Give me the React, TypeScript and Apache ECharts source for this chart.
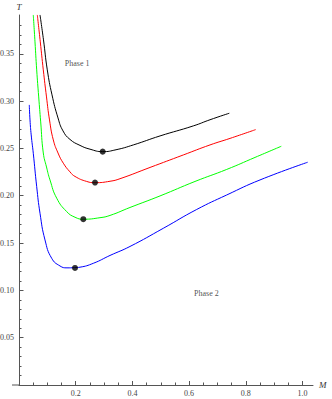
import React, { useEffect, useRef } from "react";
import * as echarts from "echarts";

// Curve samples (M, T)
const blackM = [0.0741, 0.0864, 0.0998, 0.1164, 0.1376, 0.1552, 0.1799, 0.2152, 0.2504, 0.2952, 0.3422, 0.4032, 0.4974, 0.6148, 0.6737, 0.7418];
const blackT = [0.3911, 0.3647, 0.333, 0.3066, 0.2822, 0.2685, 0.2595, 0.2532, 0.2492, 0.2466, 0.2486, 0.2537, 0.2632, 0.2738, 0.2803, 0.2872];

const redM = [0.0646, 0.0751, 0.0857, 0.097, 0.1076, 0.121, 0.1376, 0.1563, 0.1799, 0.1975, 0.2388, 0.2681, 0.321, 0.3563, 0.4621, 0.5795, 0.6737, 0.7443, 0.8349];
const redT = [0.3911, 0.3626, 0.333, 0.3044, 0.2801, 0.259, 0.2452, 0.2344, 0.2252, 0.2204, 0.2151, 0.2138, 0.2153, 0.218, 0.2299, 0.2431, 0.2537, 0.2606, 0.2699];

const greenM = [0.0504, 0.0564, 0.0624, 0.0695, 0.0765, 0.0857, 0.097, 0.1093, 0.133, 0.1683, 0.1975, 0.2268, 0.2857, 0.321, 0.3915, 0.4974, 0.6208, 0.7326, 0.8325, 0.9252];
const greenT = [0.3911, 0.3626, 0.333, 0.3044, 0.278, 0.2452, 0.2304, 0.2167, 0.1974, 0.1832, 0.1773, 0.1752, 0.1768, 0.1792, 0.1876, 0.1998, 0.2151, 0.2278, 0.2405, 0.2523];

const blueM = [0.0363, 0.0388, 0.043, 0.0504, 0.0624, 0.0741, 0.0917, 0.1153, 0.1446, 0.1693, 0.1951, 0.2152, 0.2621, 0.321, 0.3915, 0.509, 0.6268, 0.7326, 0.8501, 1.0183];
const blueT = [0.296, 0.2801, 0.2643, 0.2449, 0.2096, 0.1815, 0.1533, 0.1339, 0.1258, 0.1238, 0.124, 0.1245, 0.1286, 0.1369, 0.1464, 0.1656, 0.1855, 0.2008, 0.2167, 0.2354];

// Minimum points
const minM = [0.2952, 0.2681, 0.2268, 0.1975];
const minT = [0.2466, 0.2139, 0.1752, 0.1237];

// Region labels
const phaseLabels = ["Phase 1", "Phase 2"];
const phaseM = [0.205, 0.661];
const phaseT = [0.34, 0.0962];

// Axis ticks
const xMajor = [0.2, 0.4, 0.6, 0.8, 1.0];
const xMinor = [0.05, 0.1, 0.15, 0.25, 0.3, 0.35, 0.45, 0.5, 0.55, 0.65, 0.7, 0.75, 0.85, 0.9, 0.95];
const yMajor = [0.05, 0.1, 0.15, 0.2, 0.25, 0.3, 0.35];
const yMinor = [0.01, 0.02, 0.03, 0.04, 0.06, 0.07, 0.08, 0.09, 0.11, 0.12, 0.13, 0.14, 0.16, 0.17, 0.18, 0.19, 0.21, 0.22, 0.23, 0.24, 0.26, 0.27, 0.28, 0.29, 0.31, 0.32, 0.33, 0.34, 0.36, 0.37, 0.38];

const X_MIN = 0;
const X_MAX = 1.037;
const Y_MIN = 0;
const Y_MAX = 0.391;

const zip = (a: number[], b: number[]) => a.map((v, i) => [v, b[i]]);

const FONT = "Liberation Serif";
const AXIS_COLOR = "#555555";
const LABEL_COLOR = "#444";

export default function App() {
  const ref = useRef<HTMLDivElement>(null);
  useEffect(() => {
    if (!ref.current) return;
    const chart = echarts.init(ref.current, null, { renderer: "svg" });
    const lineSeries = (data: number[][], color: string) => ({
      type: "line",
      data,
      xAxisIndex: 0,
      yAxisIndex: 0,
      showSymbol: false,
      smooth: 0.5,
      clip: true,
      lineStyle: { color, width: 1 },
      silent: true,
    });
    chart.setOption({
      animation: false,
      backgroundColor: "#fff",
      grid: { left: 19, right: 19, top: 15, bottom: 14, containLabel: false, outerBoundsMode: "none" },
      xAxis: [
        {
          type: "value",
          min: X_MIN,
          max: X_MAX,
          position: "bottom",
          name: "M",
          nameLocation: "end",
          nameGap: 6,
          nameTextStyle: { fontFamily: FONT, fontStyle: "italic", fontSize: 9, color: "#333", verticalAlign: "middle" },
          axisLine: { show: true, onZero: false, lineStyle: { color: AXIS_COLOR, width: 1 } },
          axisTick: { show: true, inside: true, length: 4, customValues: xMajor, lineStyle: { color: AXIS_COLOR, width: 1 } },
          axisLabel: {
            show: true,
            customValues: xMajor,
            margin: 4,
            fontFamily: FONT,
            fontSize: 8,
            color: LABEL_COLOR,
            formatter: (v: number) => v.toFixed(1),
          },
          splitLine: { show: false },
        },
        {
          type: "value",
          min: X_MIN,
          max: X_MAX,
          position: "bottom",
          axisLine: { show: false, onZero: false },
          axisTick: { show: true, inside: true, length: 2.5, customValues: xMinor, lineStyle: { color: AXIS_COLOR, width: 1 } },
          axisLabel: { show: false },
          splitLine: { show: false },
        },
      ],
      yAxis: [
        {
          type: "value",
          min: Y_MIN,
          max: Y_MAX,
          position: "left",
          name: "T",
          nameLocation: "end",
          nameGap: 4,
          nameTextStyle: { fontFamily: FONT, fontStyle: "italic", fontSize: 9, color: "#333", align: "center" },
          axisLine: { show: true, onZero: false, lineStyle: { color: AXIS_COLOR, width: 1 } },
          axisTick: { show: true, inside: true, length: 4.5, customValues: yMajor, lineStyle: { color: AXIS_COLOR, width: 1 } },
          axisLabel: {
            show: true,
            customValues: yMajor,
            margin: 5,
            fontFamily: FONT,
            fontSize: 8,
            color: LABEL_COLOR,
            formatter: (v: number) => v.toFixed(2),
          },
          splitLine: { show: false },
        },
        {
          type: "value",
          min: Y_MIN,
          max: Y_MAX,
          position: "left",
          axisLine: { show: false, onZero: false },
          axisTick: { show: true, inside: true, length: 2.5, customValues: yMinor, lineStyle: { color: AXIS_COLOR, width: 1 } },
          axisLabel: { show: false },
          splitLine: { show: false },
        },
      ],
      graphic: [
        {
          type: "line",
          shape: { x1: 12, y1: 385, x2: 19, y2: 385 },
          style: { stroke: AXIS_COLOR, lineWidth: 1 },
          silent: true,
        },
      ],
      series: [
        lineSeries(zip(blackM, blackT), "#000000"),
        lineSeries(zip(redM, redT), "#ff0000"),
        lineSeries(zip(greenM, greenT), "#00ff00"),
        lineSeries(zip(blueM, blueT), "#0000ff"),
        {
          type: "scatter",
          data: zip(minM, minT),
          symbol: "circle",
          symbolSize: 6,
          itemStyle: { color: "#000" },
          silent: true,
          z: 5,
        },
        {
          type: "scatter",
          data: phaseLabels.map((name, i) => ({ value: [phaseM[i], phaseT[i]], name })),
          symbolSize: 0,
          silent: true,
          label: {
            show: true,
            position: "inside",
            formatter: (p: any) => p.name,
            fontFamily: FONT,
            fontSize: 8,
            color: "#222",
          },
        },
      ],
    });
    return () => chart.dispose();
  }, []);
  return (
    <div
      ref={ref}
      style={{ position: "fixed", left: 0, top: 0, width: 332, height: 399 }}
    />
  );
}
